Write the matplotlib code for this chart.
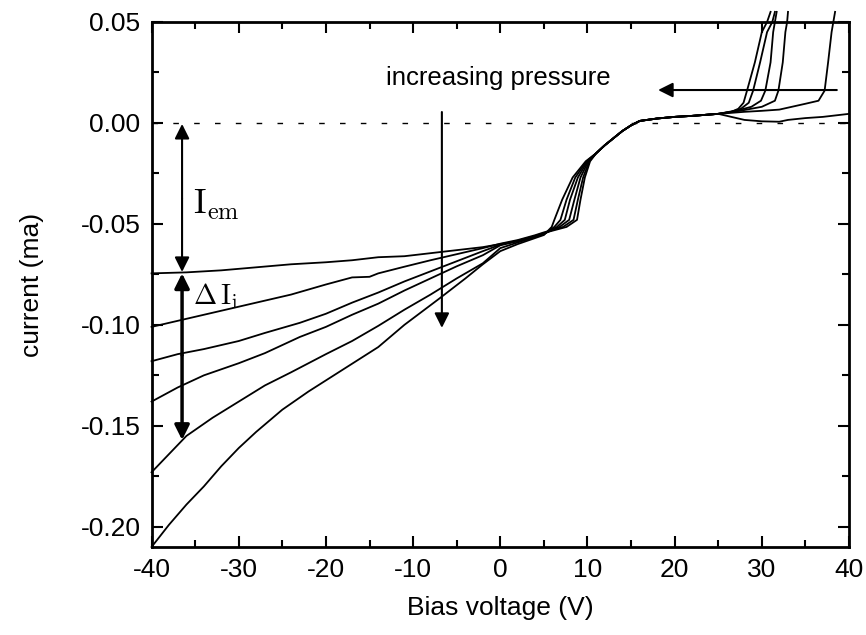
import numpy as np
import matplotlib
matplotlib.use("Agg")
import matplotlib.pyplot as plt
from matplotlib.ticker import MultipleLocator, FormatStrFormatter

plt.rcParams["font.family"] = ["Liberation Sans", "DejaVu Sans"]
plt.rcParams["axes.unicode_minus"] = False

# I-V curves, one per pressure (lowest pressure first)
left_x = [
    [-40, -36, -32, -28, -24, -20, -17, -14, -11, -8, -5, -2],
    [-40, -37, -34, -30, -27, -24, -20, -17, -15, -14, -11, -8, -5, -2],
    [-40, -37, -34, -30, -27, -23, -20, -17, -14, -11, -8, -5, -2],
    [-40, -37, -34, -30, -27, -23, -20, -17, -14, -11, -8, -5, -2],
    [-40, -38, -36, -33, -30, -27, -24, -20, -17, -14, -11, -8, -5, -2],
    [-40, -38, -36, -34, -32, -30, -28, -25, -22, -18, -14, -11, -7, -4, -2],
]
left_y = [
    [-0.0745, -0.074, -0.073, -0.0715, -0.070, -0.069, -0.068, -0.0665, -0.066, -0.0645, -0.063, -0.0615],
    [-0.101, -0.098, -0.095, -0.091, -0.088, -0.085, -0.080, -0.0765, -0.0762, -0.0745, -0.0712, -0.068, -0.065, -0.062],
    [-0.118, -0.1145, -0.112, -0.108, -0.104, -0.099, -0.0945, -0.089, -0.084, -0.0785, -0.0735, -0.0685, -0.0635],
    [-0.138, -0.131, -0.125, -0.119, -0.114, -0.106, -0.101, -0.095, -0.0895, -0.083, -0.077, -0.071, -0.0655],
    [-0.173, -0.164, -0.155, -0.146, -0.138, -0.130, -0.1235, -0.1145, -0.108, -0.1005, -0.0925, -0.085, -0.077, -0.0695],
    [-0.21, -0.199, -0.189, -0.180, -0.170, -0.161, -0.153, -0.142, -0.133, -0.122, -0.111, -0.100, -0.087, -0.077, -0.070],
]

# 0 V .. 5 V, curves merge into one band
mid_x = [0, 2, 4, 5]
mid_y = [
    [-0.0600, -0.0585, -0.0560, -0.0545],
    [-0.0598, -0.0580, -0.0556, -0.0542],
    [-0.0603, -0.0583, -0.0560, -0.0548],
    [-0.0606, -0.0586, -0.0563, -0.0550],
    [-0.0620, -0.0592, -0.0565, -0.0552],
    [-0.0635, -0.0600, -0.0570, -0.0555],
]

# step around 6-10 V, a little different for every curve
step_x = [
    [7.6, 8.8, 9.2, 9.7, 10.3],
    [7.2, 8.4, 8.9, 9.5, 10.2],
    [6.8, 7.9, 8.5, 9.2, 10.1],
    [6.5, 7.4, 8.0, 8.9, 10.0],
    [6.2, 6.9, 7.6, 8.6, 9.9],
    [5.9, 6.2, 7.1, 8.3, 9.8],
]
step_y = [-0.0515, -0.048, -0.038, -0.027, -0.019]

rise_x = [11, 12, 13, 14, 15, 16, 18, 20, 22, 25]
rise_y = [-0.015, -0.011, -0.0075, -0.004, -0.0012, 0.001, 0.0022, 0.003, 0.0035, 0.0045]

# breakdown at the right end
right_x = [
    [28, 30, 32, 33, 35, 37, 40],
    [28, 30, 32, 35, 36.5, 37.2, 37.6, 38.0, 38.2, 38.4],
    [27.5, 30, 31.5, 31.9, 32.4, 32.7, 32.9, 33.0],
    [27.5, 28.8, 29.9, 30.4, 31.0, 31.3, 31.5, 31.7],
    [26.5, 27.6, 28.5, 29.0, 29.8, 30.6, 31.2, 31.5],
    [26.5, 27.3, 27.9, 28.3, 29.2, 30.0, 30.6, 31.0],
]
right_y = [
    [0.0015, 0.0008, 0.0006, 0.0015, 0.0024, 0.003, 0.0045],
    [0.0055, 0.006, 0.0066, 0.0095, 0.011, 0.016, 0.030, 0.045, 0.050, 0.055],
    [0.006, 0.008, 0.011, 0.016, 0.030, 0.045, 0.050, 0.055],
    [0.0065, 0.008, 0.011, 0.016, 0.030, 0.045, 0.050, 0.055],
    [0.0055, 0.007, 0.010, 0.016, 0.030, 0.045, 0.050, 0.055],
    [0.0055, 0.007, 0.010, 0.016, 0.030, 0.045, 0.050, 0.055],
]

fig = plt.figure(figsize=(8.66, 6.35), dpi=100)
ax = fig.add_axes([0.175, 0.1386, 0.8054, 0.8268])

for i in range(6):
    x = left_x[i] + mid_x + step_x[i] + rise_x + right_x[i]
    y = left_y[i] + mid_y[i] + step_y + rise_y + right_y[i]
    ax.plot(x, y, color="black", lw=1.3, clip_on=False, zorder=3)

ax.axhline(0, color="black", lw=1.0, ls=(0, (4, 11)))

ax.set_xlim(-40, 40)
ax.set_ylim(-0.21, 0.05)
ax.xaxis.set_major_locator(MultipleLocator(10))
ax.xaxis.set_minor_locator(MultipleLocator(5))
ax.yaxis.set_major_locator(MultipleLocator(0.05))
ax.yaxis.set_minor_locator(MultipleLocator(0.025))
ax.yaxis.set_major_formatter(FormatStrFormatter("%.2f"))
ax.tick_params(which="both", direction="in", top=True, right=True, width=1.5, labelsize=19, pad=8)
ax.tick_params(which="major", length=8)
ax.tick_params(which="minor", length=5)
for s in ax.spines.values():
    s.set_linewidth(2)

ax.set_xlabel("Bias voltage (V)", fontsize=19, labelpad=10)
ax.set_ylabel("current (ma)", fontsize=19, labelpad=26)

arrow = dict(arrowstyle="-|>", color="black", shrinkA=0, shrinkB=0, mutation_scale=22)

# I_em double arrow
ax.annotate("", xy=(-36.5, -0.0005), xytext=(-36.5, -0.0375), arrowprops=dict(arrow, lw=1.5))
ax.annotate("", xy=(-36.5, -0.0738), xytext=(-36.5, -0.0375), arrowprops=dict(arrow, lw=1.5))
# delta I_i double arrow
ax.annotate("", xy=(-36.5, -0.0745), xytext=(-36.5, -0.115), arrowprops=dict(arrow, lw=2.5))
ax.annotate("", xy=(-36.5, -0.157), xytext=(-36.5, -0.115), arrowprops=dict(arrow, lw=2.5))

ax.text(-35.3, -0.0405, r"$\mathrm{I_{em}}$", fontsize=25, math_fontfamily="cm", va="center")
ax.text(-35.3, -0.0855, r"$\Delta\,\mathrm{I_{i}}$", fontsize=20, math_fontfamily="cm", va="center")

# increasing pressure arrows
ax.text(-0.2, 0.0225, "increasing pressure", fontsize=18.5, ha="center", va="center")
ax.annotate("", xy=(-6.7, -0.1015), xytext=(-6.7, 0.0054), arrowprops=dict(arrow, lw=1.5))
ax.annotate("", xy=(18.1, 0.0163), xytext=(38.6, 0.0163), arrowprops=dict(arrow, lw=1.5))

fig.savefig("out.png", dpi=100)
